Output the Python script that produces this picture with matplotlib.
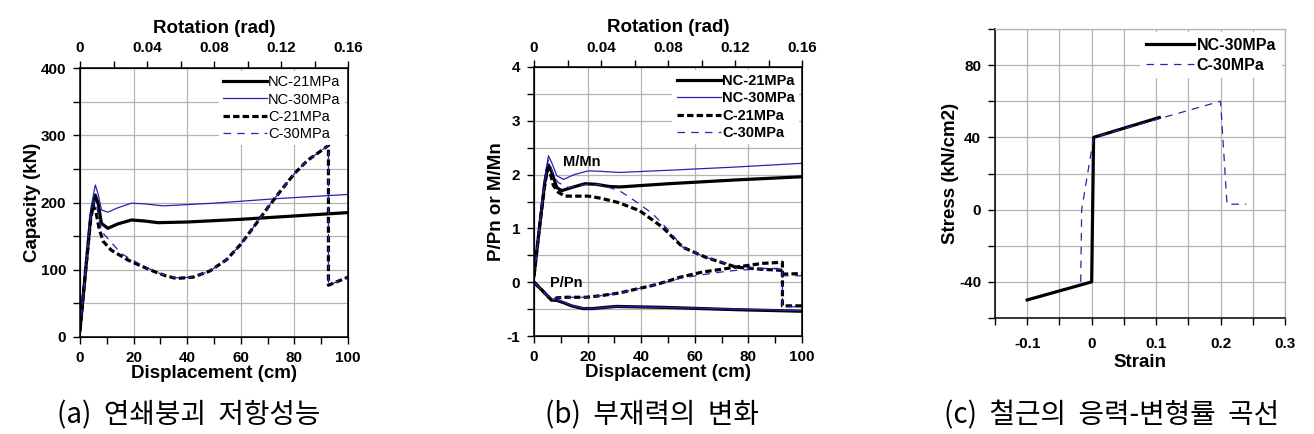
import numpy as np
import matplotlib
matplotlib.use('Agg')
import matplotlib.pyplot as plt
from matplotlib.ticker import MultipleLocator

plt.rcParams['font.family'] = ['Liberation Sans', 'DejaVu Sans']
plt.rcParams['font.weight'] = 'bold'
plt.rcParams['axes.unicode_minus'] = False

BLUE = '#2424b4'
GRID = '#b4b4b4'
KFONT = ['Noto Sans CJK KR', 'DejaVu Sans']

# ---- (a) capacity vs displacement
a_nc21_x = [0, 2, 4, 5.7, 6.8, 8, 10.4, 14, 19.2, 24, 29.1, 40, 60, 80, 100]
a_nc21_y = [10, 95, 180, 211, 198, 169, 161.6, 168, 174, 172.5, 170, 171, 175, 180, 185]
a_nc30_x = [0, 2, 4, 5.7, 6.8, 8, 10.4, 14, 19.2, 24, 31, 50, 74.5, 100]
a_nc30_y = [10, 100, 190, 226, 212, 189, 185.6, 192, 199, 198, 195, 199, 206, 212]
a_c21_x = [0, 2, 4, 4.9, 6, 7.2, 8.7, 11.7, 17.9, 22, 27.9, 32, 36, 42.2, 48.4,
           54.7, 60, 66, 70, 75, 80, 85, 90, 92.7, 92.7, 100]
a_c21_y = [10, 95, 175, 196, 185, 160, 142, 129, 114.5, 107, 97, 91, 87, 89, 98,
           115, 138, 170, 192, 218, 243, 263, 277, 285, 77, 89]
a_c30_x = [0, 2, 4, 5.3, 6.3, 7.3, 8.7, 15.4, 24.1, 30, 36, 42.2, 48.4,
           54.7, 60, 66, 70, 75, 80, 85, 90, 92.7, 92.7, 100]
a_c30_y = [10, 95, 178, 203, 193, 170, 154, 124, 104.5, 94, 88, 89, 98,
           115, 138, 170, 192, 218, 243, 263, 277, 285, 77, 89]

# ---- (b) member forces vs displacement
m_nc21_x = [0, 2, 4, 5.4, 6.6, 8.5, 10.3, 14, 19, 23.2, 28, 31.9, 50, 75, 100]
m_nc21_y = [0.12, 1.0, 1.85, 2.18, 2.05, 1.76, 1.70, 1.76, 1.83, 1.82, 1.78, 1.77, 1.83, 1.9, 1.96]
m_nc30_x = [0, 2, 4, 5.4, 6.8, 8.5, 11, 15, 20.3, 25, 31.9, 50, 75, 100]
m_nc30_y = [0.12, 1.05, 1.95, 2.35, 2.2, 1.98, 1.91, 2.0, 2.07, 2.06, 2.04, 2.08, 2.14, 2.21]
m_c21_x = [0, 2, 4, 5, 6, 7.2, 9.1, 11.6, 20.3, 25, 31.5, 39.4, 48, 55.5, 64.2,
           75.4, 85, 92.7, 92.7, 100]
m_c21_y = [0.12, 1.0, 1.8, 2.12, 2.05, 1.8, 1.67, 1.6, 1.6, 1.56, 1.48, 1.33, 1.02, 0.65, 0.46,
           0.28, 0.24, 0.22, 0.15, 0.16]
m_c30_x = [0, 2, 4, 5.3, 6.3, 7.5, 9.1, 12.8, 20, 24, 31.9, 38, 44.3, 50, 55.5,
           64.2, 75.4, 85, 92.7, 92.7, 100]
m_c30_y = [0.12, 1.0, 1.85, 2.27, 2.15, 1.95, 1.85, 1.76, 1.82, 1.82, 1.7, 1.5, 1.27, 0.98, 0.65,
           0.46, 0.3, 0.26, 0.24, 0.12, 0.12]
p_nc21_x = [0, 3, 6.5, 8.6, 11, 14, 18.3, 22, 26, 30.7, 50, 75, 100]
p_nc21_y = [0, -0.15, -0.33, -0.34, -0.38, -0.44, -0.49, -0.49, -0.47, -0.45, -0.47, -0.51, -0.54]
p_nc30_x = [0, 3, 6.5, 8.6, 11, 14, 18.3, 22, 26, 30.7, 50, 75, 100]
p_nc30_y = [0, -0.15, -0.32, -0.33, -0.37, -0.43, -0.48, -0.49, -0.47, -0.45, -0.47, -0.5, -0.53]
p_c21_x = [0, 3, 6.5, 8.6, 12, 19.5, 25, 31.9, 38, 44.3, 50, 54.3, 63, 70, 75.4,
           85.3, 92.7, 92.7, 100]
p_c21_y = [0, -0.15, -0.33, -0.29, -0.28, -0.28, -0.25, -0.2, -0.13, -0.06, 0.02, 0.09, 0.19, 0.24, 0.28,
           0.35, 0.37, -0.44, -0.44]
p_c30_x = [0, 3, 6.5, 8.6, 12, 19.5, 25, 31.9, 38, 44.3, 50, 54.3, 63, 70, 75.4,
           85.3, 92.7, 92.7, 100]
p_c30_y = [0, -0.15, -0.33, -0.29, -0.28, -0.28, -0.25, -0.2, -0.13, -0.06, 0.01, 0.07, 0.14, 0.19, 0.22,
           0.25, 0.26, -0.45, -0.46]

# ---- (c) rebar stress-strain
s_nc30_x = [-0.1, 0, 0.003, 0.105]
s_nc30_y = [-50, -40, 40, 51]
s_c30_x = [-0.017, -0.0155, 0.003, 0.2, 0.21, 0.24]
s_c30_y = [-40, 0, 40, 60, 3, 3]

rot_ticks = [0, 0.04, 0.08, 0.12, 0.16]
rot_labels = ['0', '0.04', '0.08', '0.12', '0.16']
captions = ['(a)  연쇄붕괴  저항성능', '(b)  부재력의  변화', '(c)  철근의  응력-변형률  곡선']

W, H = 1314, 434
fig = plt.figure(figsize=(W / 100, H / 100), dpi=100)

TICK = 11
LAB = 13.5


def box(l, t, r, b):
    return [l / W, 1 - b / H, (r - l) / W, (b - t) / H]


def style(ax, pad=5):
    ax.tick_params(which='both', direction='out', length=5, width=1, labelsize=TICK, pad=pad)
    ax.grid(True, which='major', color=GRID, lw=0.9)
    for s in ax.spines.values():
        s.set_linewidth(1.1)


def add_top(ax):
    top = ax.twiny()
    top.set_xlim(0, 0.16)
    top.set_xticks(rot_ticks)
    top.set_xticklabels(rot_labels)
    top.xaxis.set_minor_locator(MultipleLocator(0.02))
    top.tick_params(which='both', direction='out', length=5, width=1, labelsize=TICK, pad=4)
    top.set_xlabel('Rotation (rad)', fontsize=LAB, fontweight='bold', labelpad=6)
    return top


def series(ax, xs, ys, kind, label=None):
    if kind == 'nc21':
        ax.plot(xs, ys, color='black', lw=2.3, label=label)
    elif kind == 'nc30':
        ax.plot(xs, ys, color=BLUE, lw=0.9, label=label)
    elif kind == 'c21':
        ax.plot(xs, ys, color='black', lw=2.3, dashes=(2, 1), label=label)
    else:
        ax.plot(xs, ys, color=BLUE, lw=0.9, dashes=(6, 5), label=label)


def legend(ax, weight, size):
    ax.legend(loc='upper right', bbox_to_anchor=(1.0, 1.0), frameon=True, fancybox=False,
              edgecolor='none', facecolor='white', framealpha=1,
              handlelength=3.0, handletextpad=0.1, labelspacing=0.22, borderpad=0.3,
              borderaxespad=0.2, prop={'weight': weight, 'size': size})


# panel a
ax = fig.add_axes(box(80, 68, 348, 337))
style(ax)
series(ax, a_nc21_x, a_nc21_y, 'nc21', 'NC-21MPa')
series(ax, a_nc30_x, a_nc30_y, 'nc30', 'NC-30MPa')
series(ax, a_c21_x, a_c21_y, 'c21', 'C-21MPa')
series(ax, a_c30_x, a_c30_y, 'c30', 'C-30MPa')
ax.set_xlim(0, 100)
ax.set_ylim(0, 400)
ax.xaxis.set_major_locator(MultipleLocator(20))
ax.xaxis.set_minor_locator(MultipleLocator(10))
ax.yaxis.set_major_locator(MultipleLocator(100))
ax.yaxis.set_minor_locator(MultipleLocator(50))
ax.grid(True, which='minor', axis='y', color=GRID, lw=0.9)
ax.set_xlabel('Displacement (cm)', fontsize=LAB, fontweight='bold', labelpad=0)
ax.set_ylabel('Capacity (kN)', fontsize=LAB, fontweight='bold', labelpad=0)
legend(ax, 'normal', 10.5)
add_top(ax)

# panel b
ax = fig.add_axes(box(534, 67, 802, 336))
style(ax)
series(ax, m_nc21_x, m_nc21_y, 'nc21', 'NC-21MPa')
series(ax, m_nc30_x, m_nc30_y, 'nc30', 'NC-30MPa')
series(ax, m_c21_x, m_c21_y, 'c21', 'C-21MPa')
series(ax, m_c30_x, m_c30_y, 'c30', 'C-30MPa')
series(ax, p_nc21_x, p_nc21_y, 'nc21')
series(ax, p_nc30_x, p_nc30_y, 'nc30')
series(ax, p_c21_x, p_c21_y, 'c21')
series(ax, p_c30_x, p_c30_y, 'c30')
ax.set_xlim(0, 100)
ax.set_ylim(-1, 4)
ax.xaxis.set_major_locator(MultipleLocator(20))
ax.xaxis.set_minor_locator(MultipleLocator(10))
ax.yaxis.set_major_locator(MultipleLocator(1))
ax.yaxis.set_minor_locator(MultipleLocator(0.5))
ax.grid(True, which='minor', axis='y', color=GRID, lw=0.9)
ax.text(10.8, 2.24, 'M/Mn', fontsize=10.5, fontweight='bold', va='center')
ax.text(6, -0.02, 'P/Pn', fontsize=10.5, fontweight='bold', va='center')
ax.set_xlabel('Displacement (cm)', fontsize=LAB, fontweight='bold', labelpad=0)
ax.set_ylabel('P/Pn or M/Mn', fontsize=LAB, fontweight='bold', labelpad=1)
legend(ax, 'bold', 10.5)
add_top(ax)

# panel c
ax = fig.add_axes(box(995, 29, 1285, 318))
style(ax, pad=9)
ax.plot(s_nc30_x, s_nc30_y, color='black', lw=2.3, label='NC-30MPa')
ax.plot(s_c30_x, s_c30_y, color=BLUE, lw=0.9, dashes=(6, 5), label='C-30MPa')
ax.set_xlim(-0.15, 0.3)
ax.set_ylim(-60, 100)
ax.set_xticks([-0.1, 0, 0.1, 0.2, 0.3])
ax.set_xticklabels(['-0.1', '0', '0.1', '0.2', '0.3'])
ax.xaxis.set_minor_locator(MultipleLocator(0.05))
ax.set_yticks([-40, 0, 40, 80])
ax.set_yticklabels(['-40', '0', '40', '80'])
ax.yaxis.set_minor_locator(MultipleLocator(20))
ax.tick_params(axis='y', pad=5)
ax.grid(True, which='both', color=GRID, lw=0.9)
ax.spines['top'].set_color(GRID)
ax.spines['right'].set_color(GRID)
ax.spines['top'].set_linewidth(0.9)
ax.spines['right'].set_linewidth(0.9)
ax.set_xlabel('Strain', fontsize=LAB, fontweight='bold', labelpad=2)
ax.set_ylabel('Stress (kN/cm2)', fontsize=LAB, fontweight='bold', labelpad=0)
ax.legend(loc='upper right', bbox_to_anchor=(1.0, 1.0), frameon=True, fancybox=False,
          edgecolor='none', facecolor='white', framealpha=1,
          handlelength=3.0, handletextpad=0.2, labelspacing=0.3, borderpad=0.35,
          borderaxespad=0.2, prop={'weight': 'bold', 'size': 11.5})

# captions
for xc, txt in zip([189, 652, 1112], captions):
    fig.text(xc / W, 1 - 415 / H, txt, ha='center', va='center', fontsize=20,
             family=KFONT, fontweight='light')

fig.savefig('out.png', dpi=100)
